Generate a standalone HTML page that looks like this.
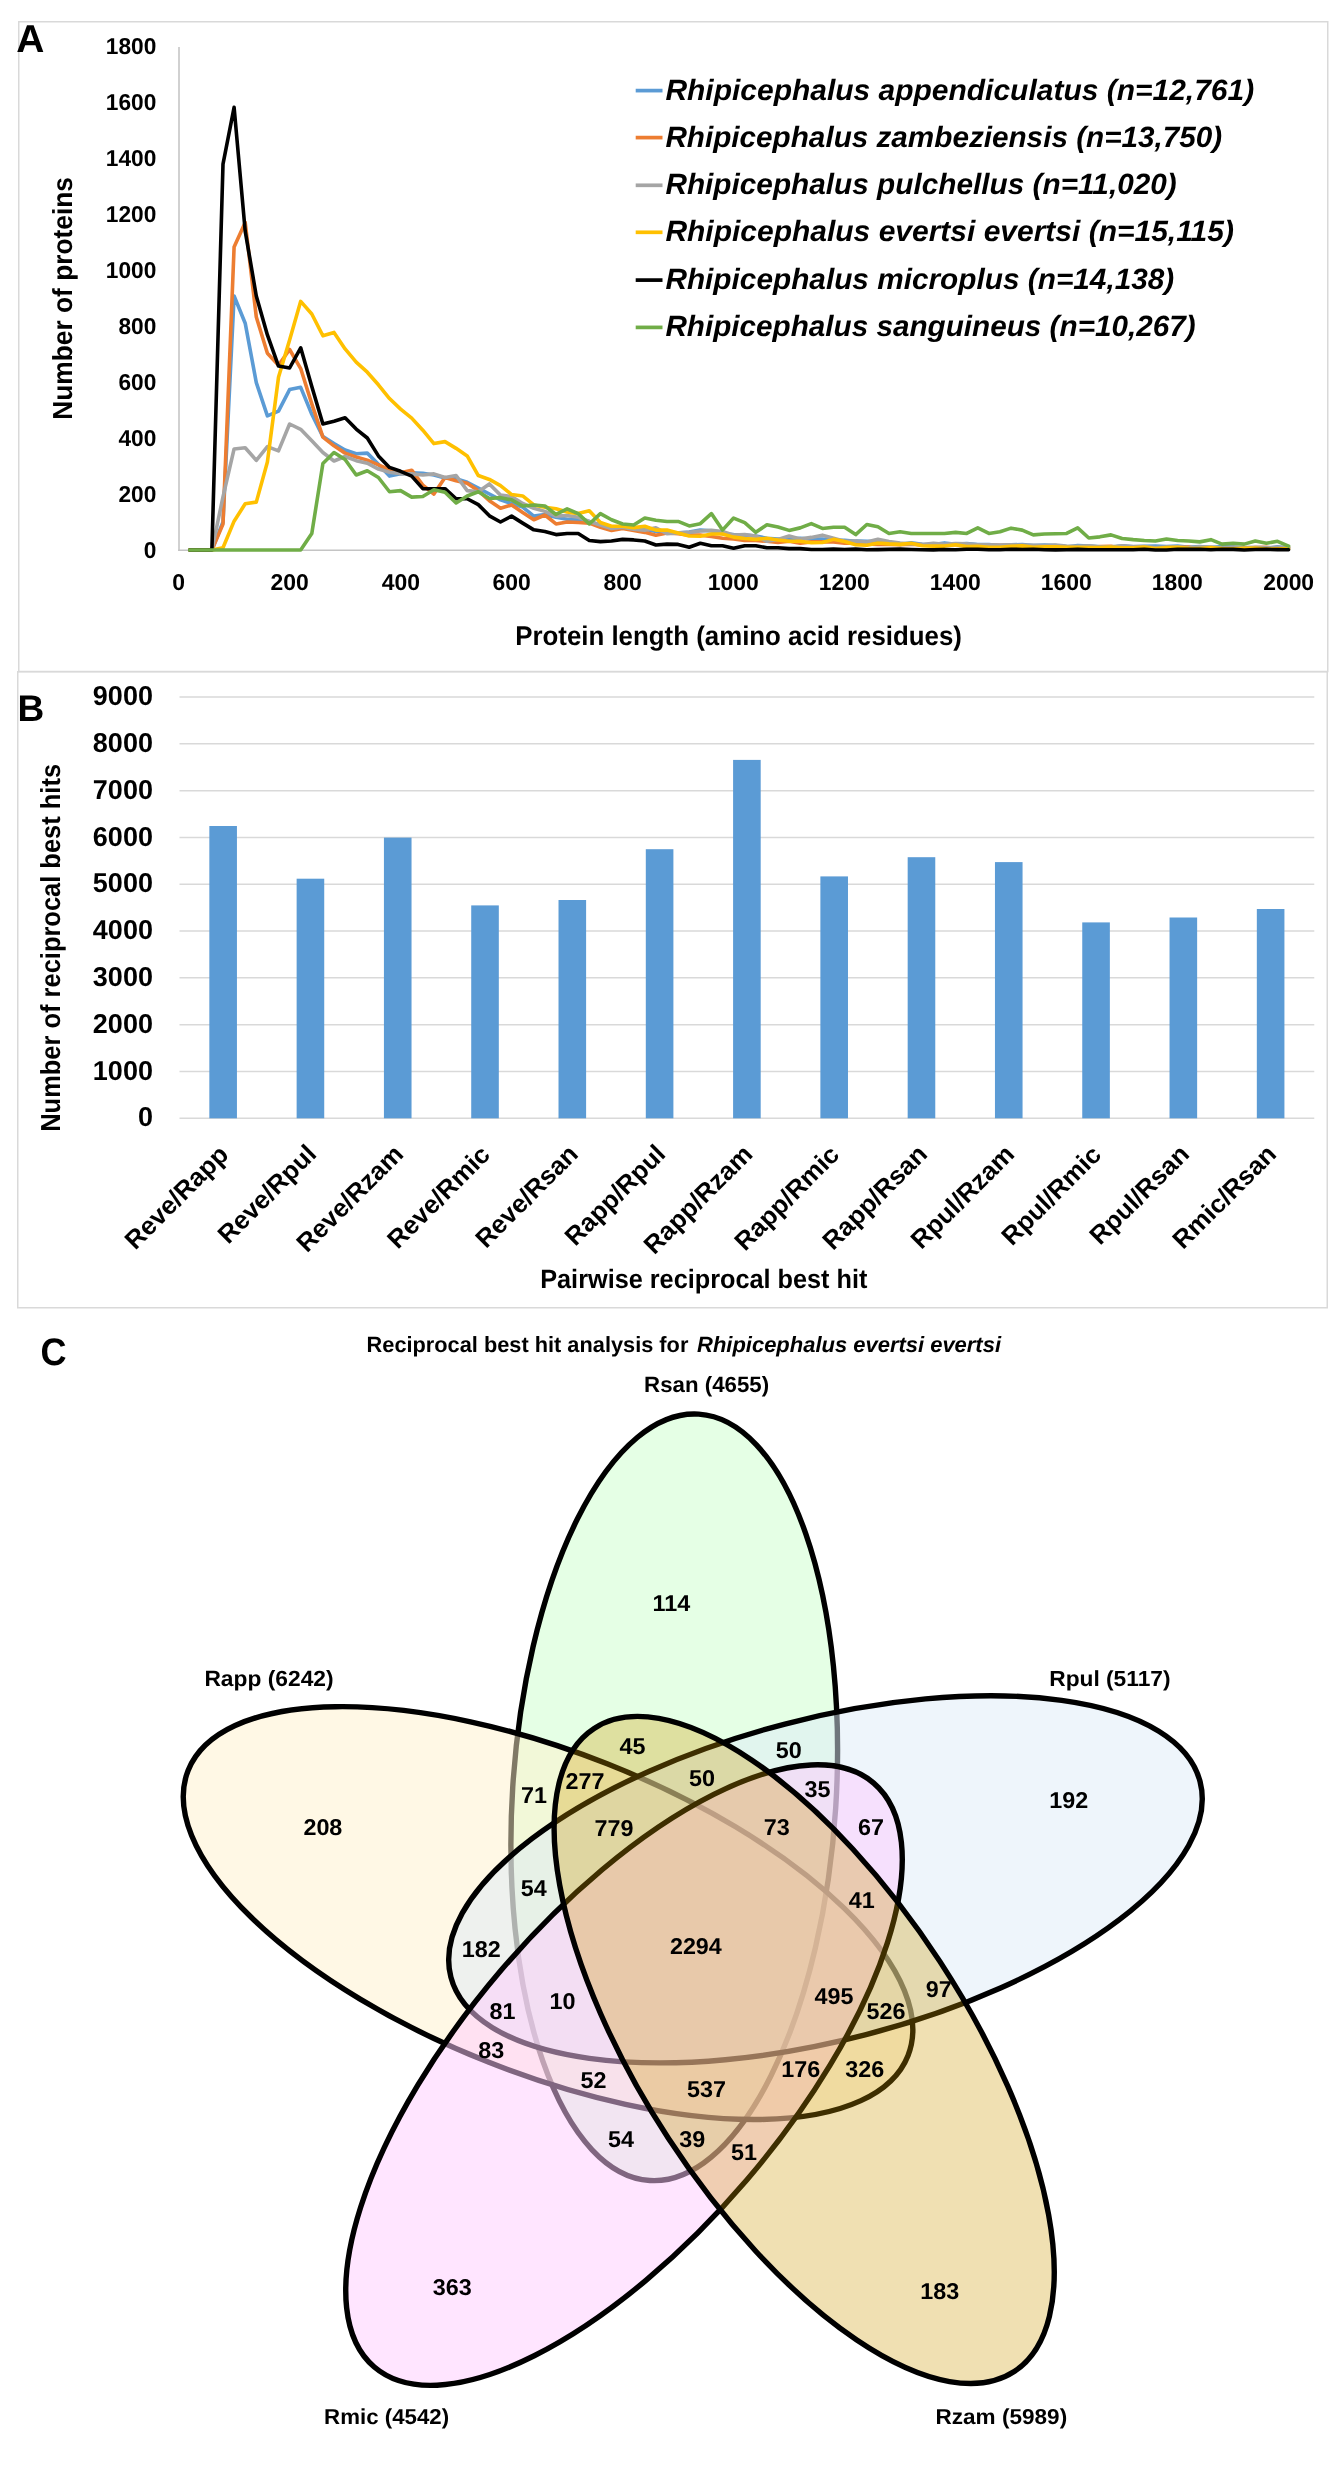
<!DOCTYPE html><html><head><meta charset="utf-8"><style>html,body{margin:0;padding:0;background:#fff;overflow:hidden}svg{display:block;will-change:transform;text-rendering:geometricPrecision}</style></head><body>
<svg width="1344" height="2482" viewBox="0 0 1344 2482">
<rect x="18.75" y="21.75" width="1309" height="649.75" fill="none" stroke="#d9d9d9" stroke-width="1.5"/>
<line x1="179.0" y1="47" x2="179.0" y2="551.10" stroke="#c9c9c9" stroke-width="1.7"/>
<line x1="178.15" y1="550.3" x2="1288.60" y2="550.3" stroke="#c4c4c4" stroke-width="1.6"/>
<text x="143.69" y="557.95" font-family='"Liberation Sans", sans-serif' font-weight="bold" font-style="normal" font-size="23.04" textLength="12.63" lengthAdjust="spacingAndGlyphs" fill="#000">0</text>
<text x="118.48" y="501.95" font-family='"Liberation Sans", sans-serif' font-weight="bold" font-style="normal" font-size="23.04" textLength="37.89" lengthAdjust="spacingAndGlyphs" fill="#000">200</text>
<text x="118.48" y="445.95" font-family='"Liberation Sans", sans-serif' font-weight="bold" font-style="normal" font-size="23.04" textLength="37.89" lengthAdjust="spacingAndGlyphs" fill="#000">400</text>
<text x="118.48" y="389.95" font-family='"Liberation Sans", sans-serif' font-weight="bold" font-style="normal" font-size="23.04" textLength="37.89" lengthAdjust="spacingAndGlyphs" fill="#000">600</text>
<text x="118.48" y="333.95" font-family='"Liberation Sans", sans-serif' font-weight="bold" font-style="normal" font-size="23.04" textLength="37.89" lengthAdjust="spacingAndGlyphs" fill="#000">800</text>
<text x="105.76" y="277.95" font-family='"Liberation Sans", sans-serif' font-weight="bold" font-style="normal" font-size="23.04" textLength="50.53" lengthAdjust="spacingAndGlyphs" fill="#000">1000</text>
<text x="105.76" y="221.95" font-family='"Liberation Sans", sans-serif' font-weight="bold" font-style="normal" font-size="23.04" textLength="50.53" lengthAdjust="spacingAndGlyphs" fill="#000">1200</text>
<text x="105.76" y="165.95" font-family='"Liberation Sans", sans-serif' font-weight="bold" font-style="normal" font-size="23.04" textLength="50.53" lengthAdjust="spacingAndGlyphs" fill="#000">1400</text>
<text x="105.76" y="109.95" font-family='"Liberation Sans", sans-serif' font-weight="bold" font-style="normal" font-size="23.04" textLength="50.53" lengthAdjust="spacingAndGlyphs" fill="#000">1600</text>
<text x="105.76" y="53.95" font-family='"Liberation Sans", sans-serif' font-weight="bold" font-style="normal" font-size="23.04" textLength="50.53" lengthAdjust="spacingAndGlyphs" fill="#000">1800</text>
<text x="172.19" y="590.10" font-family='"Liberation Sans", sans-serif' font-weight="bold" font-style="normal" font-size="22.90" textLength="12.73" lengthAdjust="spacingAndGlyphs" fill="#000">0</text>
<text x="270.59" y="590.10" font-family='"Liberation Sans", sans-serif' font-weight="bold" font-style="normal" font-size="22.90" textLength="38.20" lengthAdjust="spacingAndGlyphs" fill="#000">200</text>
<text x="381.82" y="590.10" font-family='"Liberation Sans", sans-serif' font-weight="bold" font-style="normal" font-size="22.90" textLength="38.20" lengthAdjust="spacingAndGlyphs" fill="#000">400</text>
<text x="492.48" y="590.10" font-family='"Liberation Sans", sans-serif' font-weight="bold" font-style="normal" font-size="22.90" textLength="38.20" lengthAdjust="spacingAndGlyphs" fill="#000">600</text>
<text x="603.59" y="590.10" font-family='"Liberation Sans", sans-serif' font-weight="bold" font-style="normal" font-size="22.90" textLength="38.20" lengthAdjust="spacingAndGlyphs" fill="#000">800</text>
<text x="707.84" y="590.10" font-family='"Liberation Sans", sans-serif' font-weight="bold" font-style="normal" font-size="22.90" textLength="50.93" lengthAdjust="spacingAndGlyphs" fill="#000">1000</text>
<text x="818.84" y="590.10" font-family='"Liberation Sans", sans-serif' font-weight="bold" font-style="normal" font-size="22.90" textLength="50.93" lengthAdjust="spacingAndGlyphs" fill="#000">1200</text>
<text x="929.84" y="590.10" font-family='"Liberation Sans", sans-serif' font-weight="bold" font-style="normal" font-size="22.90" textLength="50.93" lengthAdjust="spacingAndGlyphs" fill="#000">1400</text>
<text x="1040.84" y="590.10" font-family='"Liberation Sans", sans-serif' font-weight="bold" font-style="normal" font-size="22.90" textLength="50.93" lengthAdjust="spacingAndGlyphs" fill="#000">1600</text>
<text x="1151.84" y="590.10" font-family='"Liberation Sans", sans-serif' font-weight="bold" font-style="normal" font-size="22.90" textLength="50.93" lengthAdjust="spacingAndGlyphs" fill="#000">1800</text>
<text x="1263.18" y="590.10" font-family='"Liberation Sans", sans-serif' font-weight="bold" font-style="normal" font-size="22.90" textLength="50.93" lengthAdjust="spacingAndGlyphs" fill="#000">2000</text>
<text x="16.23" y="52.40" font-family='"Liberation Sans", sans-serif' font-weight="bold" font-style="normal" font-size="38.84" textLength="28.13" lengthAdjust="spacingAndGlyphs" fill="#000">A</text>
<text x="-419.74" y="71.60" font-family='"Liberation Sans", sans-serif' font-weight="bold" font-style="normal" font-size="27.54" textLength="242.69" lengthAdjust="spacingAndGlyphs" fill="#000" transform="rotate(-90.000 0.00 0.00)">Number of proteins</text>
<text x="515.19" y="644.80" font-family='"Liberation Sans", sans-serif' font-weight="bold" font-style="normal" font-size="27.10" textLength="446.79" lengthAdjust="spacingAndGlyphs" fill="#000">Protein length (amino acid residues)</text>
<polyline points="189.70,550.00 200.80,550.00 211.90,550.00 223.00,522.00 234.10,296.04 245.20,323.20 256.30,382.56 267.40,415.88 278.50,411.12 289.60,389.56 300.70,387.32 311.80,414.20 322.90,436.60 334.00,443.60 345.10,450.04 356.20,453.68 367.30,453.12 378.40,464.32 389.50,476.08 400.60,473.84 411.70,472.72 422.80,473.28 433.90,474.96 445.00,478.04 456.10,478.60 467.20,482.24 478.30,488.12 489.40,494.00 500.50,499.88 511.60,503.52 522.70,507.16 533.80,516.12 544.90,514.44 556.00,517.24 567.10,519.20 578.20,519.20 589.30,521.44 600.40,525.08 611.50,527.32 622.60,527.60 633.70,527.88 644.80,529.28 655.90,531.52 667.00,532.36 678.10,532.92 689.20,532.08 700.30,530.12 711.40,530.68 722.50,533.76 733.60,534.60 744.70,535.16 755.80,536.00 766.90,538.24 778.00,539.08 789.10,539.08 800.20,538.24 811.30,539.08 822.40,539.08 833.50,540.27 844.60,540.18 855.70,541.17 866.80,541.25 877.90,541.80 889.00,543.65 900.10,544.37 911.20,542.71 922.30,544.19 933.40,544.44 944.50,542.92 955.60,544.28 966.70,543.65 977.80,544.64 988.90,544.46 1000.00,545.74 1011.10,544.84 1022.20,544.51 1033.30,545.47 1044.40,545.17 1055.50,545.51 1066.60,547.06 1077.70,545.60 1088.80,546.07 1099.90,546.82 1111.00,547.52 1122.10,545.75 1133.20,546.73 1144.30,546.28 1155.40,546.02 1166.50,546.48 1177.60,546.12 1188.70,547.39 1199.80,546.58 1210.90,547.48 1222.00,546.48 1233.10,546.70 1244.20,548.55 1255.30,548.56 1266.40,548.48 1277.50,546.90 1288.60,548.18" fill="none" stroke="#5B9BD5" stroke-width="3.6" stroke-linejoin="round" stroke-linecap="round"/>
<polyline points="189.70,550.00 200.80,550.00 211.90,550.00 223.00,523.96 234.10,247.04 245.20,222.40 256.30,317.04 267.40,353.16 278.50,365.20 289.60,349.52 300.70,368.56 311.80,403.84 322.90,437.16 334.00,445.84 345.10,453.12 356.20,457.04 367.30,460.12 378.40,464.88 389.50,469.64 400.60,472.72 411.70,470.20 422.80,485.04 433.90,494.00 445.00,477.48 456.10,480.84 467.20,483.36 478.30,490.64 489.40,500.72 500.50,508.28 511.60,504.92 522.70,512.48 533.80,519.76 544.90,515.00 556.00,523.96 567.10,522.00 578.20,522.56 589.30,523.12 600.40,527.32 611.50,530.40 622.60,528.44 633.70,530.40 644.80,532.36 655.90,535.16 667.00,532.92 678.10,533.76 689.20,535.16 700.30,535.16 711.40,536.56 722.50,538.24 733.60,539.08 744.70,540.48 755.80,540.48 766.90,541.32 778.00,542.44 789.10,541.32 800.20,543.28 811.30,541.88 822.40,541.88 833.50,542.04 844.60,543.21 855.70,543.18 866.80,543.90 877.90,544.41 889.00,544.33 900.10,544.77 911.20,544.20 922.30,544.85 933.40,544.45 944.50,544.76 955.60,544.61 966.70,545.47 977.80,546.76 988.90,545.35 1000.00,545.26 1011.10,545.55 1022.20,546.45 1033.30,546.27 1044.40,547.55 1055.50,546.31 1066.60,547.04 1077.70,547.75 1088.80,548.32 1099.90,546.62 1111.00,546.38 1122.10,548.47 1133.20,546.95 1144.30,547.89 1155.40,548.54 1166.50,548.29 1177.60,547.30 1188.70,547.14 1199.80,549.06 1210.90,547.85 1222.00,549.20 1233.10,547.76 1244.20,548.70 1255.30,547.54 1266.40,547.38 1277.50,548.52 1288.60,547.48" fill="none" stroke="#ED7D31" stroke-width="3.6" stroke-linejoin="round" stroke-linecap="round"/>
<polyline points="189.70,550.00 200.80,550.00 211.90,550.00 223.00,496.80 234.10,448.92 245.20,447.80 256.30,460.40 267.40,446.68 278.50,450.88 289.60,424.00 300.70,429.32 311.80,440.80 322.90,452.56 334.00,460.96 345.10,456.48 356.20,460.68 367.30,463.20 378.40,469.08 389.50,472.16 400.60,473.84 411.70,473.84 422.80,474.96 433.90,473.84 445.00,477.48 456.10,475.52 467.20,490.64 478.30,491.76 489.40,483.92 500.50,495.12 511.60,496.52 522.70,503.52 533.80,508.28 544.90,511.36 556.00,516.12 567.10,515.56 578.20,517.24 589.30,521.44 600.40,525.08 611.50,528.44 622.60,527.32 633.70,529.28 644.80,530.12 655.90,527.88 667.00,533.76 678.10,532.92 689.20,532.36 700.30,530.96 711.40,530.40 722.50,531.52 733.60,535.16 744.70,534.60 755.80,536.00 766.90,541.32 778.00,539.36 789.10,536.00 800.20,539.08 811.30,537.40 822.40,535.16 833.50,538.28 844.60,541.19 855.70,541.15 866.80,542.11 877.90,539.31 889.00,541.47 900.10,543.09 911.20,544.04 922.30,544.42 933.40,543.22 944.50,544.34 955.60,543.44 966.70,543.73 977.80,544.79 988.90,544.84 1000.00,544.93 1011.10,544.90 1022.20,545.17 1033.30,545.42 1044.40,545.50 1055.50,545.15 1066.60,546.07 1077.70,546.28 1088.80,545.88 1099.90,546.77 1111.00,546.75 1122.10,545.70 1133.20,546.55 1144.30,546.59 1155.40,547.57 1166.50,546.98 1177.60,546.79 1188.70,547.81 1199.80,546.89 1210.90,546.95 1222.00,548.00 1233.10,547.13 1244.20,547.48 1255.30,547.21 1266.40,547.84 1277.50,547.33 1288.60,547.36" fill="none" stroke="#A5A5A5" stroke-width="3.6" stroke-linejoin="round" stroke-linecap="round"/>
<polyline points="189.70,550.00 200.80,550.00 211.90,550.00 223.00,547.76 234.10,521.16 245.20,503.80 256.30,502.12 267.40,462.08 278.50,377.24 289.60,340.00 300.70,301.36 311.80,313.96 322.90,335.80 334.00,332.44 345.10,348.96 356.20,362.12 367.30,372.20 378.40,384.80 389.50,398.52 400.60,409.16 411.70,418.12 422.80,430.16 433.90,443.60 445.00,441.64 456.10,448.36 467.20,455.92 478.30,475.52 489.40,479.44 500.50,485.60 511.60,494.56 522.70,495.96 533.80,504.92 544.90,507.16 556.00,508.84 567.10,511.92 578.20,513.60 589.30,510.80 600.40,522.56 611.50,526.20 622.60,526.20 633.70,527.60 644.80,526.20 655.90,530.12 667.00,530.12 678.10,532.92 689.20,536.00 700.30,536.28 711.40,534.04 722.50,534.04 733.60,537.12 744.70,538.52 755.80,539.36 766.90,538.24 778.00,539.92 789.10,541.32 800.20,541.32 811.30,542.72 822.40,542.44 833.50,539.36 844.60,541.60 855.70,544.68 866.80,545.24 877.90,543.00 889.00,543.84 900.10,544.40 911.20,543.28 922.30,545.80 933.40,546.08 944.50,546.08 955.60,544.68 966.70,546.64 977.80,546.36 988.90,547.24 1000.00,547.26 1011.10,546.30 1022.20,545.90 1033.30,547.18 1044.40,546.91 1055.50,546.76 1066.60,547.30 1077.70,547.31 1088.80,547.47 1099.90,547.46 1111.00,547.16 1122.10,547.74 1133.20,547.69 1144.30,547.10 1155.40,548.43 1166.50,547.60 1177.60,547.40 1188.70,548.20 1199.80,548.43 1210.90,547.53 1222.00,548.56 1233.10,548.73 1244.20,548.39 1255.30,548.03 1266.40,549.11 1277.50,548.82 1288.60,548.88" fill="none" stroke="#FFC000" stroke-width="3.6" stroke-linejoin="round" stroke-linecap="round"/>
<polyline points="189.70,550.00 200.80,550.00 211.90,550.00 223.00,164.16 234.10,107.32 245.20,231.08 256.30,296.04 267.40,334.96 278.50,366.04 289.60,368.00 300.70,347.84 311.80,386.48 322.90,424.00 334.00,421.20 345.10,417.84 356.20,429.04 367.30,438.00 378.40,455.92 389.50,467.40 400.60,471.32 411.70,476.08 422.80,488.68 433.90,488.68 445.00,488.68 456.10,498.76 467.20,498.76 478.30,504.64 489.40,515.84 500.50,522.00 511.60,516.12 522.70,523.12 533.80,529.84 544.90,531.52 556.00,534.60 567.10,533.48 578.20,533.48 589.30,540.48 600.40,541.60 611.50,541.04 622.60,539.36 633.70,539.92 644.80,541.04 655.90,544.96 667.00,544.12 678.10,544.40 689.20,547.20 700.30,543.28 711.40,545.80 722.50,545.80 733.60,548.32 744.70,545.80 755.80,545.80 766.90,547.76 778.00,547.76 789.10,548.60 800.20,548.60 811.30,549.44 822.40,549.44 833.50,549.17 844.60,549.51 855.70,549.16 866.80,549.74 877.90,549.61 889.00,549.35 900.10,549.16 911.20,549.53 922.30,549.73 933.40,549.83 944.50,549.49 955.60,549.78 966.70,549.27 977.80,549.25 988.90,549.81 1000.00,549.73 1011.10,549.30 1022.20,549.44 1033.30,549.31 1044.40,549.70 1055.50,549.89 1066.60,549.76 1077.70,549.35 1088.80,549.79 1099.90,549.74 1111.00,549.68 1122.10,549.69 1133.20,549.70 1144.30,549.28 1155.40,549.93 1166.50,550.00 1177.60,549.28 1188.70,549.34 1199.80,549.26 1210.90,549.73 1222.00,549.30 1233.10,549.33 1244.20,549.93 1255.30,549.49 1266.40,549.42 1277.50,549.58 1288.60,549.70" fill="none" stroke="#000000" stroke-width="3.6" stroke-linejoin="round" stroke-linecap="round"/>
<polyline points="189.70,550.00 200.80,550.00 211.90,550.00 223.00,550.00 234.10,550.00 245.20,550.00 256.30,550.00 267.40,550.00 278.50,550.00 289.60,550.00 300.70,550.00 311.80,533.48 322.90,463.48 334.00,452.56 345.10,459.56 356.20,474.96 367.30,470.76 378.40,477.48 389.50,491.76 400.60,490.64 411.70,497.08 422.80,496.52 433.90,489.80 445.00,492.32 456.10,502.96 467.20,495.96 478.30,491.76 489.40,498.48 500.50,497.64 511.60,499.88 522.70,506.04 533.80,504.92 544.90,506.04 556.00,514.44 567.10,508.84 578.20,513.60 589.30,523.96 600.40,513.60 611.50,519.76 622.60,523.96 633.70,525.08 644.80,518.08 655.90,520.32 667.00,521.44 678.10,521.44 689.20,525.92 700.30,523.68 711.40,513.60 722.50,530.12 733.60,518.08 744.70,522.56 755.80,532.36 766.90,524.80 778.00,527.04 789.10,530.40 800.20,527.88 811.30,523.68 822.40,528.44 833.50,527.32 844.60,527.32 855.70,534.60 866.80,524.52 877.90,526.76 889.00,533.48 900.10,531.80 911.20,533.48 922.30,533.48 933.40,533.48 944.50,533.48 955.60,532.36 966.70,533.48 977.80,527.88 988.90,533.48 1000.00,531.80 1011.10,528.16 1022.20,530.12 1033.30,534.88 1044.40,534.04 1055.50,533.76 1066.60,533.48 1077.70,527.88 1088.80,537.96 1099.90,536.84 1111.00,534.88 1122.10,538.52 1133.20,539.64 1144.30,540.48 1155.40,541.04 1166.50,539.08 1177.60,540.48 1188.70,541.04 1199.80,541.88 1210.90,539.64 1222.00,544.12 1233.10,543.28 1244.20,544.12 1255.30,541.04 1266.40,543.28 1277.50,541.32 1288.60,546.08" fill="none" stroke="#70AD47" stroke-width="3.6" stroke-linejoin="round" stroke-linecap="round"/>
<line x1="635.7" y1="90.60" x2="662.5" y2="90.60" stroke="#5B9BD5" stroke-width="3.7"/>
<text x="665.40" y="99.60" font-family='"Liberation Sans", sans-serif' font-weight="bold" font-style="italic" font-size="29.28" textLength="588.77" lengthAdjust="spacingAndGlyphs" fill="#000">Rhipicephalus appendiculatus (n=12,761)</text>
<line x1="635.7" y1="137.60" x2="662.5" y2="137.60" stroke="#ED7D31" stroke-width="3.7"/>
<text x="665.41" y="146.60" font-family='"Liberation Sans", sans-serif' font-weight="bold" font-style="italic" font-size="29.28" textLength="556.75" lengthAdjust="spacingAndGlyphs" fill="#000">Rhipicephalus zambeziensis (n=13,750)</text>
<line x1="635.7" y1="185.30" x2="662.5" y2="185.30" stroke="#A5A5A5" stroke-width="3.7"/>
<text x="665.40" y="194.30" font-family='"Liberation Sans", sans-serif' font-weight="bold" font-style="italic" font-size="29.28" textLength="511.37" lengthAdjust="spacingAndGlyphs" fill="#000">Rhipicephalus pulchellus (n=11,020)</text>
<line x1="635.7" y1="232.30" x2="662.5" y2="232.30" stroke="#FFC000" stroke-width="3.7"/>
<text x="665.40" y="241.30" font-family='"Liberation Sans", sans-serif' font-weight="bold" font-style="italic" font-size="29.28" textLength="568.53" lengthAdjust="spacingAndGlyphs" fill="#000">Rhipicephalus evertsi evertsi (n=15,115)</text>
<line x1="635.7" y1="280.10" x2="662.5" y2="280.10" stroke="#000000" stroke-width="3.7"/>
<text x="665.40" y="289.10" font-family='"Liberation Sans", sans-serif' font-weight="bold" font-style="italic" font-size="29.28" textLength="508.90" lengthAdjust="spacingAndGlyphs" fill="#000">Rhipicephalus microplus (n=14,138)</text>
<line x1="635.7" y1="327.40" x2="662.5" y2="327.40" stroke="#70AD47" stroke-width="3.7"/>
<text x="665.41" y="336.40" font-family='"Liberation Sans", sans-serif' font-weight="bold" font-style="italic" font-size="29.28" textLength="530.22" lengthAdjust="spacingAndGlyphs" fill="#000">Rhipicephalus sanguineus (n=10,267)</text>
<rect x="17.75" y="671.75" width="1309.5" height="636" fill="none" stroke="#d9d9d9" stroke-width="1.5"/>
<line x1="179.50" y1="1118.30" x2="1314.27" y2="1118.30" stroke="#d9d9d9" stroke-width="1.5"/>
<text x="137.96" y="1126.45" font-family='"Liberation Sans", sans-serif' font-weight="bold" font-style="normal" font-size="27.39" textLength="15.01" lengthAdjust="spacingAndGlyphs" fill="#000">0</text>
<line x1="179.50" y1="1071.49" x2="1314.27" y2="1071.49" stroke="#d9d9d9" stroke-width="1.5"/>
<text x="92.87" y="1079.64" font-family='"Liberation Sans", sans-serif' font-weight="bold" font-style="normal" font-size="27.39" textLength="60.06" lengthAdjust="spacingAndGlyphs" fill="#000">1000</text>
<line x1="179.50" y1="1024.68" x2="1314.27" y2="1024.68" stroke="#d9d9d9" stroke-width="1.5"/>
<text x="92.87" y="1032.83" font-family='"Liberation Sans", sans-serif' font-weight="bold" font-style="normal" font-size="27.39" textLength="60.06" lengthAdjust="spacingAndGlyphs" fill="#000">2000</text>
<line x1="179.50" y1="977.87" x2="1314.27" y2="977.87" stroke="#d9d9d9" stroke-width="1.5"/>
<text x="92.87" y="986.02" font-family='"Liberation Sans", sans-serif' font-weight="bold" font-style="normal" font-size="27.39" textLength="60.06" lengthAdjust="spacingAndGlyphs" fill="#000">3000</text>
<line x1="179.50" y1="931.06" x2="1314.27" y2="931.06" stroke="#d9d9d9" stroke-width="1.5"/>
<text x="92.87" y="939.21" font-family='"Liberation Sans", sans-serif' font-weight="bold" font-style="normal" font-size="27.39" textLength="60.06" lengthAdjust="spacingAndGlyphs" fill="#000">4000</text>
<line x1="179.50" y1="884.25" x2="1314.27" y2="884.25" stroke="#d9d9d9" stroke-width="1.5"/>
<text x="92.87" y="892.40" font-family='"Liberation Sans", sans-serif' font-weight="bold" font-style="normal" font-size="27.39" textLength="60.06" lengthAdjust="spacingAndGlyphs" fill="#000">5000</text>
<line x1="179.50" y1="837.44" x2="1314.27" y2="837.44" stroke="#d9d9d9" stroke-width="1.5"/>
<text x="92.87" y="845.59" font-family='"Liberation Sans", sans-serif' font-weight="bold" font-style="normal" font-size="27.39" textLength="60.06" lengthAdjust="spacingAndGlyphs" fill="#000">6000</text>
<line x1="179.50" y1="790.63" x2="1314.27" y2="790.63" stroke="#d9d9d9" stroke-width="1.5"/>
<text x="92.87" y="798.78" font-family='"Liberation Sans", sans-serif' font-weight="bold" font-style="normal" font-size="27.39" textLength="60.06" lengthAdjust="spacingAndGlyphs" fill="#000">7000</text>
<line x1="179.50" y1="743.82" x2="1314.27" y2="743.82" stroke="#d9d9d9" stroke-width="1.5"/>
<text x="92.87" y="751.97" font-family='"Liberation Sans", sans-serif' font-weight="bold" font-style="normal" font-size="27.39" textLength="60.06" lengthAdjust="spacingAndGlyphs" fill="#000">8000</text>
<line x1="179.50" y1="697.01" x2="1314.27" y2="697.01" stroke="#d9d9d9" stroke-width="1.5"/>
<text x="92.87" y="705.16" font-family='"Liberation Sans", sans-serif' font-weight="bold" font-style="normal" font-size="27.39" textLength="60.06" lengthAdjust="spacingAndGlyphs" fill="#000">9000</text>
<rect x="209.34" y="826.00" width="27.60" height="292.30" fill="#5B9BD5"/>
<rect x="296.63" y="878.70" width="27.60" height="239.60" fill="#5B9BD5"/>
<rect x="383.93" y="837.60" width="27.60" height="280.70" fill="#5B9BD5"/>
<rect x="471.22" y="905.40" width="27.60" height="212.90" fill="#5B9BD5"/>
<rect x="558.51" y="900.00" width="27.60" height="218.30" fill="#5B9BD5"/>
<rect x="645.80" y="849.20" width="27.60" height="269.10" fill="#5B9BD5"/>
<rect x="733.09" y="759.90" width="27.60" height="358.40" fill="#5B9BD5"/>
<rect x="820.38" y="876.40" width="27.60" height="241.90" fill="#5B9BD5"/>
<rect x="907.67" y="857.20" width="27.60" height="261.10" fill="#5B9BD5"/>
<rect x="994.96" y="862.10" width="27.60" height="256.20" fill="#5B9BD5"/>
<rect x="1082.25" y="922.40" width="27.60" height="195.90" fill="#5B9BD5"/>
<rect x="1169.54" y="917.50" width="27.60" height="200.80" fill="#5B9BD5"/>
<rect x="1256.83" y="909.00" width="27.60" height="209.30" fill="#5B9BD5"/>
<text x="96.33" y="1156.70" font-family='"Liberation Sans", sans-serif' font-weight="bold" font-style="normal" font-size="25.65" textLength="133.90" lengthAdjust="spacingAndGlyphs" fill="#000" transform="rotate(-45.000 229.25 1156.70)">Reve/Rapp</text>
<text x="191.66" y="1156.70" font-family='"Liberation Sans", sans-serif' font-weight="bold" font-style="normal" font-size="25.65" textLength="126.69" lengthAdjust="spacingAndGlyphs" fill="#000" transform="rotate(-45.000 316.54 1156.70)">Reve/Rpul</text>
<text x="267.03" y="1156.70" font-family='"Liberation Sans", sans-serif' font-weight="bold" font-style="normal" font-size="25.65" textLength="138.24" lengthAdjust="spacingAndGlyphs" fill="#000" transform="rotate(-45.000 403.83 1156.70)">Reve/Rzam</text>
<text x="359.24" y="1156.70" font-family='"Liberation Sans", sans-serif' font-weight="bold" font-style="normal" font-size="25.65" textLength="132.49" lengthAdjust="spacingAndGlyphs" fill="#000" transform="rotate(-45.000 491.12 1156.70)">Reve/Rmic</text>
<text x="447.57" y="1156.70" font-family='"Liberation Sans", sans-serif' font-weight="bold" font-style="normal" font-size="25.65" textLength="132.48" lengthAdjust="spacingAndGlyphs" fill="#000" transform="rotate(-45.000 578.41 1156.70)">Reve/Rsan</text>
<text x="537.97" y="1156.70" font-family='"Liberation Sans", sans-serif' font-weight="bold" font-style="normal" font-size="25.65" textLength="129.52" lengthAdjust="spacingAndGlyphs" fill="#000" transform="rotate(-45.000 665.70 1156.70)">Rapp/Rpul</text>
<text x="613.34" y="1156.70" font-family='"Liberation Sans", sans-serif' font-weight="bold" font-style="normal" font-size="25.65" textLength="141.08" lengthAdjust="spacingAndGlyphs" fill="#000" transform="rotate(-45.000 752.99 1156.70)">Rapp/Rzam</text>
<text x="705.55" y="1156.70" font-family='"Liberation Sans", sans-serif' font-weight="bold" font-style="normal" font-size="25.65" textLength="135.32" lengthAdjust="spacingAndGlyphs" fill="#000" transform="rotate(-45.000 840.28 1156.70)">Rapp/Rmic</text>
<text x="793.88" y="1156.70" font-family='"Liberation Sans", sans-serif' font-weight="bold" font-style="normal" font-size="25.65" textLength="135.32" lengthAdjust="spacingAndGlyphs" fill="#000" transform="rotate(-45.000 927.57 1156.70)">Rapp/Rsan</text>
<text x="882.46" y="1156.70" font-family='"Liberation Sans", sans-serif' font-weight="bold" font-style="normal" font-size="25.65" textLength="133.87" lengthAdjust="spacingAndGlyphs" fill="#000" transform="rotate(-45.000 1014.86 1156.70)">Rpul/Rzam</text>
<text x="974.67" y="1156.70" font-family='"Liberation Sans", sans-serif' font-weight="bold" font-style="normal" font-size="25.65" textLength="128.11" lengthAdjust="spacingAndGlyphs" fill="#000" transform="rotate(-45.000 1102.14 1156.70)">Rpul/Rmic</text>
<text x="1063.00" y="1156.70" font-family='"Liberation Sans", sans-serif' font-weight="bold" font-style="normal" font-size="25.65" textLength="128.11" lengthAdjust="spacingAndGlyphs" fill="#000" transform="rotate(-45.000 1189.43 1156.70)">Rpul/Rsan</text>
<text x="1144.33" y="1156.70" font-family='"Liberation Sans", sans-serif' font-weight="bold" font-style="normal" font-size="25.65" textLength="133.90" lengthAdjust="spacingAndGlyphs" fill="#000" transform="rotate(-45.000 1276.72 1156.70)">Rmic/Rsan</text>
<text x="17.41" y="720.50" font-family='"Liberation Sans", sans-serif' font-weight="bold" font-style="normal" font-size="36.96" textLength="26.76" lengthAdjust="spacingAndGlyphs" fill="#000">B</text>
<text x="-1131.78" y="59.90" font-family='"Liberation Sans", sans-serif' font-weight="bold" font-style="normal" font-size="27.54" textLength="367.82" lengthAdjust="spacingAndGlyphs" fill="#000" transform="rotate(-90.000 0.00 0.00)">Number of reciprocal best hits</text>
<text x="540.23" y="1287.60" font-family='"Liberation Sans", sans-serif' font-weight="bold" font-style="normal" font-size="26.67" textLength="327.19" lengthAdjust="spacingAndGlyphs" fill="#000">Pairwise reciprocal best hit</text>
<text x="40.45" y="1365.20" font-family='"Liberation Sans", sans-serif' font-weight="bold" font-style="normal" font-size="38.41" textLength="26.11" lengthAdjust="spacingAndGlyphs" fill="#000">C</text>
<text x="366.58" y="1351.50" font-family='"Liberation Sans", sans-serif' font-weight="bold" font-style="normal" font-size="22.03" textLength="321.78" lengthAdjust="spacingAndGlyphs" fill="#000">Reciprocal best hit analysis for</text>
<text x="697.06" y="1351.50" font-family='"Liberation Sans", sans-serif' font-weight="bold" font-style="italic" font-size="22.03" textLength="303.96" lengthAdjust="spacingAndGlyphs" fill="#000">Rhipicephalus evertsi evertsi</text>
<text x="644.14" y="1391.90" font-family='"Liberation Sans", sans-serif' font-weight="bold" font-style="normal" font-size="22.03" textLength="124.94" lengthAdjust="spacingAndGlyphs" fill="#000">Rsan (4655)</text>
<text x="204.40" y="1686.00" font-family='"Liberation Sans", sans-serif' font-weight="bold" font-style="normal" font-size="22.03" textLength="129.19" lengthAdjust="spacingAndGlyphs" fill="#000">Rapp (6242)</text>
<text x="1049.21" y="1685.60" font-family='"Liberation Sans", sans-serif' font-weight="bold" font-style="normal" font-size="21.88" textLength="121.33" lengthAdjust="spacingAndGlyphs" fill="#000">Rpul (5117)</text>
<text x="324.14" y="2423.75" font-family='"Liberation Sans", sans-serif' font-weight="bold" font-style="normal" font-size="21.59" textLength="124.95" lengthAdjust="spacingAndGlyphs" fill="#000">Rmic (4542)</text>
<text x="935.52" y="2423.75" font-family='"Liberation Sans", sans-serif' font-weight="bold" font-style="normal" font-size="21.59" textLength="131.63" lengthAdjust="spacingAndGlyphs" fill="#000">Rzam (5989)</text>
<ellipse cx="674.23" cy="1797.29" rx="383.97" ry="161.82" transform="rotate(-86.347 674.23 1797.29)" fill="#CCFFCC" fill-opacity="0.50" stroke="#000" stroke-width="5.4"/>
<ellipse cx="548.04" cy="1913.08" rx="387.14" ry="160.55" transform="rotate(-158.389 548.04 1913.08)" fill="#FFF2CC" fill-opacity="0.50" stroke="#000" stroke-width="5.4"/>
<ellipse cx="825.47" cy="1879.32" rx="387.15" ry="160.51" transform="rotate(-14.638 825.47 1879.32)" fill="#DEEBF7" fill-opacity="0.50" stroke="#000" stroke-width="5.4"/>
<ellipse cx="624.01" cy="2075.07" rx="384.20" ry="161.52" transform="rotate(-49.461 624.01 2075.07)" fill="#FFCCFF" fill-opacity="0.50" stroke="#000" stroke-width="5.4"/>
<ellipse cx="804.18" cy="2049.97" rx="384.09" ry="162.03" transform="rotate(-123.152 804.18 2049.97)" fill="#CC9900" fill-opacity="0.30" stroke="#000" stroke-width="5.4"/>
<text x="652.50" y="1610.60" font-family='"Liberation Sans", sans-serif' font-weight="bold" font-style="normal" font-size="22.90" textLength="37.68" lengthAdjust="spacingAndGlyphs" fill="#000">114</text>
<text x="619.55" y="1753.60" font-family='"Liberation Sans", sans-serif' font-weight="bold" font-style="normal" font-size="22.90" textLength="25.98" lengthAdjust="spacingAndGlyphs" fill="#000">45</text>
<text x="775.74" y="1757.90" font-family='"Liberation Sans", sans-serif' font-weight="bold" font-style="normal" font-size="22.90" textLength="25.98" lengthAdjust="spacingAndGlyphs" fill="#000">50</text>
<text x="565.63" y="1788.60" font-family='"Liberation Sans", sans-serif' font-weight="bold" font-style="normal" font-size="22.90" textLength="38.97" lengthAdjust="spacingAndGlyphs" fill="#000">277</text>
<text x="689.04" y="1786.40" font-family='"Liberation Sans", sans-serif' font-weight="bold" font-style="normal" font-size="22.90" textLength="25.98" lengthAdjust="spacingAndGlyphs" fill="#000">50</text>
<text x="804.44" y="1797.10" font-family='"Liberation Sans", sans-serif' font-weight="bold" font-style="normal" font-size="22.90" textLength="25.98" lengthAdjust="spacingAndGlyphs" fill="#000">35</text>
<text x="521.00" y="1803.30" font-family='"Liberation Sans", sans-serif' font-weight="bold" font-style="normal" font-size="22.90" textLength="25.98" lengthAdjust="spacingAndGlyphs" fill="#000">71</text>
<text x="594.60" y="1835.80" font-family='"Liberation Sans", sans-serif' font-weight="bold" font-style="normal" font-size="22.90" textLength="38.97" lengthAdjust="spacingAndGlyphs" fill="#000">779</text>
<text x="763.72" y="1835.10" font-family='"Liberation Sans", sans-serif' font-weight="bold" font-style="normal" font-size="22.90" textLength="25.98" lengthAdjust="spacingAndGlyphs" fill="#000">73</text>
<text x="858.04" y="1835.10" font-family='"Liberation Sans", sans-serif' font-weight="bold" font-style="normal" font-size="22.90" textLength="25.98" lengthAdjust="spacingAndGlyphs" fill="#000">67</text>
<text x="303.40" y="1834.50" font-family='"Liberation Sans", sans-serif' font-weight="bold" font-style="normal" font-size="22.90" textLength="38.97" lengthAdjust="spacingAndGlyphs" fill="#000">208</text>
<text x="1049.26" y="1807.80" font-family='"Liberation Sans", sans-serif' font-weight="bold" font-style="normal" font-size="22.90" textLength="38.97" lengthAdjust="spacingAndGlyphs" fill="#000">192</text>
<text x="520.69" y="1896.00" font-family='"Liberation Sans", sans-serif' font-weight="bold" font-style="normal" font-size="22.90" textLength="25.98" lengthAdjust="spacingAndGlyphs" fill="#000">54</text>
<text x="848.75" y="1907.50" font-family='"Liberation Sans", sans-serif' font-weight="bold" font-style="normal" font-size="22.90" textLength="25.98" lengthAdjust="spacingAndGlyphs" fill="#000">41</text>
<text x="461.66" y="1957.30" font-family='"Liberation Sans", sans-serif' font-weight="bold" font-style="normal" font-size="22.90" textLength="38.97" lengthAdjust="spacingAndGlyphs" fill="#000">182</text>
<text x="669.92" y="1954.20" font-family='"Liberation Sans", sans-serif' font-weight="bold" font-style="normal" font-size="22.90" textLength="51.95" lengthAdjust="spacingAndGlyphs" fill="#000">2294</text>
<text x="549.59" y="2008.90" font-family='"Liberation Sans", sans-serif' font-weight="bold" font-style="normal" font-size="22.90" textLength="25.98" lengthAdjust="spacingAndGlyphs" fill="#000">10</text>
<text x="814.43" y="2003.80" font-family='"Liberation Sans", sans-serif' font-weight="bold" font-style="normal" font-size="22.90" textLength="38.97" lengthAdjust="spacingAndGlyphs" fill="#000">495</text>
<text x="925.65" y="1996.80" font-family='"Liberation Sans", sans-serif' font-weight="bold" font-style="normal" font-size="22.90" textLength="25.98" lengthAdjust="spacingAndGlyphs" fill="#000">97</text>
<text x="489.42" y="2019.30" font-family='"Liberation Sans", sans-serif' font-weight="bold" font-style="normal" font-size="22.90" textLength="25.98" lengthAdjust="spacingAndGlyphs" fill="#000">81</text>
<text x="866.61" y="2019.30" font-family='"Liberation Sans", sans-serif' font-weight="bold" font-style="normal" font-size="22.90" textLength="38.97" lengthAdjust="spacingAndGlyphs" fill="#000">526</text>
<text x="478.34" y="2058.30" font-family='"Liberation Sans", sans-serif' font-weight="bold" font-style="normal" font-size="22.90" textLength="25.98" lengthAdjust="spacingAndGlyphs" fill="#000">83</text>
<text x="580.44" y="2087.50" font-family='"Liberation Sans", sans-serif' font-weight="bold" font-style="normal" font-size="22.90" textLength="25.98" lengthAdjust="spacingAndGlyphs" fill="#000">52</text>
<text x="687.13" y="2096.90" font-family='"Liberation Sans", sans-serif' font-weight="bold" font-style="normal" font-size="22.90" textLength="38.97" lengthAdjust="spacingAndGlyphs" fill="#000">537</text>
<text x="781.26" y="2077.00" font-family='"Liberation Sans", sans-serif' font-weight="bold" font-style="normal" font-size="22.90" textLength="38.97" lengthAdjust="spacingAndGlyphs" fill="#000">176</text>
<text x="845.33" y="2077.00" font-family='"Liberation Sans", sans-serif' font-weight="bold" font-style="normal" font-size="22.90" textLength="38.97" lengthAdjust="spacingAndGlyphs" fill="#000">326</text>
<text x="607.99" y="2146.70" font-family='"Liberation Sans", sans-serif' font-weight="bold" font-style="normal" font-size="22.90" textLength="25.98" lengthAdjust="spacingAndGlyphs" fill="#000">54</text>
<text x="679.35" y="2146.70" font-family='"Liberation Sans", sans-serif' font-weight="bold" font-style="normal" font-size="22.90" textLength="25.98" lengthAdjust="spacingAndGlyphs" fill="#000">39</text>
<text x="730.92" y="2160.10" font-family='"Liberation Sans", sans-serif' font-weight="bold" font-style="normal" font-size="22.90" textLength="25.98" lengthAdjust="spacingAndGlyphs" fill="#000">51</text>
<text x="432.73" y="2295.30" font-family='"Liberation Sans", sans-serif' font-weight="bold" font-style="normal" font-size="22.90" textLength="38.97" lengthAdjust="spacingAndGlyphs" fill="#000">363</text>
<text x="920.26" y="2299.30" font-family='"Liberation Sans", sans-serif' font-weight="bold" font-style="normal" font-size="22.90" textLength="38.97" lengthAdjust="spacingAndGlyphs" fill="#000">183</text>
</svg></body></html>
